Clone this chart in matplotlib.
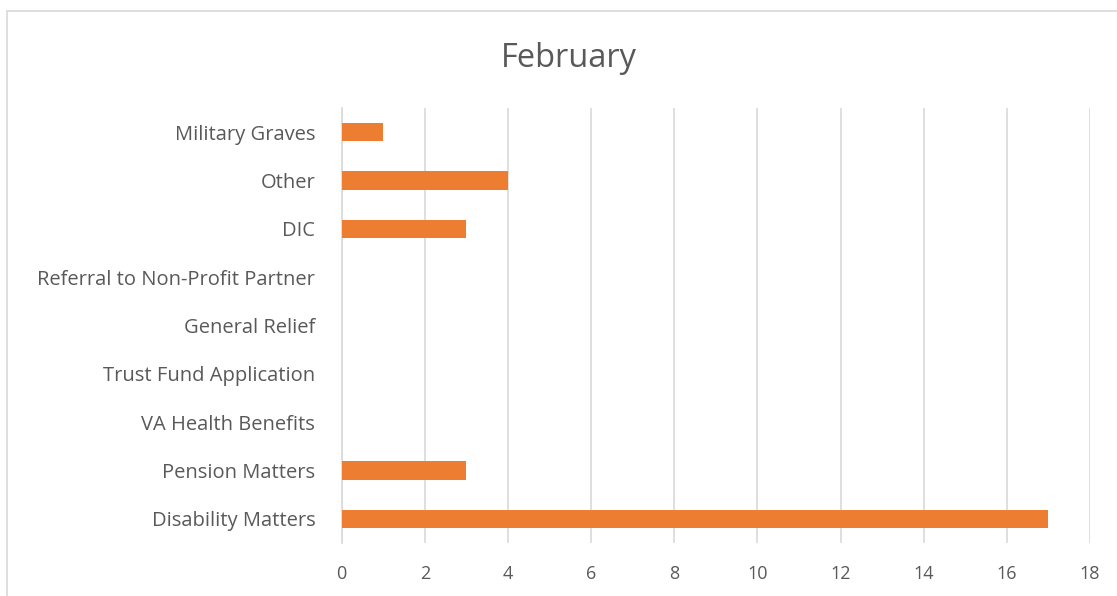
import matplotlib
matplotlib.use("Agg")
import matplotlib.pyplot as plt
from matplotlib.patches import Rectangle

categories = ["Disability Matters", "Pension Matters", "VA Health Benefits",
              "Trust Fund Application", "General Relief",
              "Referral to Non-Profit Partner", "DIC", "Other", "Military Graves"]
values = [17, 3, 0, 0, 0, 0, 3, 4, 1]
xticks = [0, 2, 4, 6, 8, 10, 12, 14, 16, 18]
title = "February"

plt.rcParams['font.family'] = ['Open Sans', 'DejaVu Sans']

W, H = 1117, 596
fig = plt.figure(figsize=(W / 100, H / 100), dpi=100)
fig.patches.append(Rectangle((7 / W, 0 - 0.01), 1.2, (H - 10.5) / H + 0.01,
                             transform=fig.transFigure, fill=False,
                             edgecolor='#D9D9D9', linewidth=1.2))

left, right = 341.7 / W, 1090 / W
top, bottom = 108 / H, 543 / H
ax = fig.add_axes([left, 1 - bottom, right - left, bottom - top])

y = list(range(len(categories)))
ax.barh(y, values, height=0.375, color='#ED7D31', zorder=3)
ax.set_xlim(0, 18)
ax.set_ylim(-0.5, len(categories) - 0.5)
ax.set_yticks(y)
ax.set_yticklabels(categories)
ax.set_xticks(xticks)
ax.set_xticklabels([str(t) for t in xticks])
ax.grid(axis='x', color='#D9D9D9', linewidth=1.2, zorder=0)
for s in ['top', 'right', 'bottom']:
    ax.spines[s].set_visible(False)
ax.spines['left'].set_color('#D9D9D9')
ax.spines['left'].set_linewidth(1.2)
ax.tick_params(axis='both', length=0, colors='#595959')
ax.tick_params(axis='y', pad=19, labelsize=14.5)
ax.tick_params(axis='x', pad=16, labelsize=13)

fig.text(568.7 / W, 1 - 66.7 / H, title, ha='center', va='baseline',
         fontsize=23.5, color='#595959')

fig.savefig("out.png", dpi=100)
